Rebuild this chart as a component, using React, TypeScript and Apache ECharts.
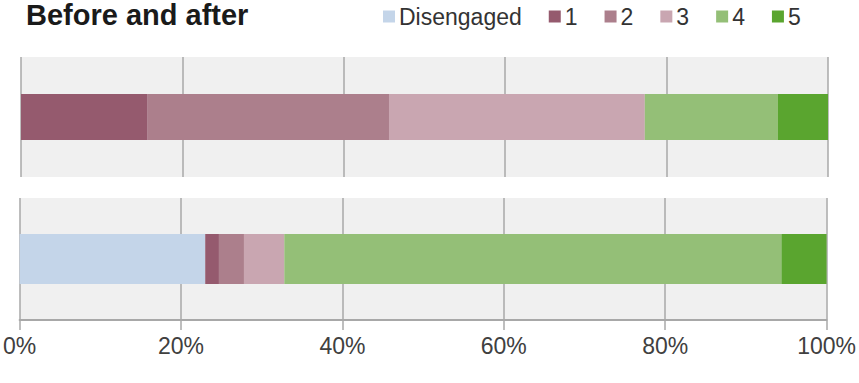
import React, { useEffect, useRef } from "react";
import * as echarts from "echarts";

const seriesNames = ["Disengaged", "1", "2", "3", "4", "5"];
const beforeValues = [0, 15.7, 29.9, 31.7, 16.5, 6.2];
const afterValues = [23.0, 1.7, 3.1, 5.0, 61.6, 5.6];
const colors = ["#c4d5e9", "#955a6e", "#ac7f8c", "#c9a6b1", "#94bf77", "#5aa52f"];
const title = "Before and after";

export default function App() {
  const ref = useRef<HTMLDivElement>(null);
  useEffect(() => {
    if (!ref.current) return;
    const chart = echarts.init(ref.current, null, { renderer: "svg" });
    const font = "Liberation Sans, Arial, sans-serif";
    const mkX = (gi: number, showLabels: boolean) => ({
      type: "value",
      gridIndex: gi,
      min: 0,
      max: 100,
      interval: 20,
      axisLine: { show: showLabels, lineStyle: { color: "#a8a8a8", width: 2 } },
      axisTick: { show: showLabels, length: 10, lineStyle: { color: "#a8a8a8", width: 1.5 } },
      axisLabel: {
        show: showLabels,
        formatter: "{value}%",
        color: "#404040",
        fontSize: 23,
        fontFamily: font,
        margin: 14,
      },
      splitLine: { show: true, lineStyle: { color: "#a8a8a8", width: 1.5 } },
    });
    const mkY = (gi: number) => ({
      type: "category",
      gridIndex: gi,
      data: [""],
      show: false,
    });
    const series: any[] = [];
    seriesNames.forEach((name, i) => {
      series.push({
        name,
        type: "bar",
        stack: "before",
        xAxisIndex: 0,
        yAxisIndex: 0,
        barWidth: 46,
        itemStyle: { color: colors[i] },
        data: [beforeValues[i]],
      });
    });
    seriesNames.forEach((name, i) => {
      series.push({
        name,
        type: "bar",
        stack: "after",
        xAxisIndex: 1,
        yAxisIndex: 1,
        barWidth: 50,
        itemStyle: { color: colors[i] },
        data: [afterValues[i]],
      });
    });
    chart.setOption({
      animation: false,
      color: colors,
      title: {
        text: title,
        left: 21,
        top: -5,
        textStyle: { fontSize: 29, fontWeight: "bold", color: "#1a1a1a", fontFamily: font },
      },
      legend: {
        data: seriesNames,
        left: 378,
        top: 0,
        itemWidth: 12,
        itemHeight: 12,
        itemGap: 27,
        icon: "rect",
        textStyle: { fontSize: 23, color: "#333", fontFamily: font, padding: [0, 0, 0, -1] },
      },
      grid: [
        { left: 21, right: 31, top: 57, height: 120, show: true, backgroundColor: "#f0f0f0", borderWidth: 0 },
        { left: 17, right: 32, top: 198, height: 122, show: true, backgroundColor: "#f0f0f0", borderWidth: 0 },
      ],
      xAxis: [mkX(0, false), mkX(1, true)],
      yAxis: [mkY(0), mkY(1)],
      series,
    });
    return () => chart.dispose();
  }, []);
  return <div ref={ref} style={{ width: 859, height: 383, position: "absolute", left: 0, top: 0, background: "#fff" }} />;
}
